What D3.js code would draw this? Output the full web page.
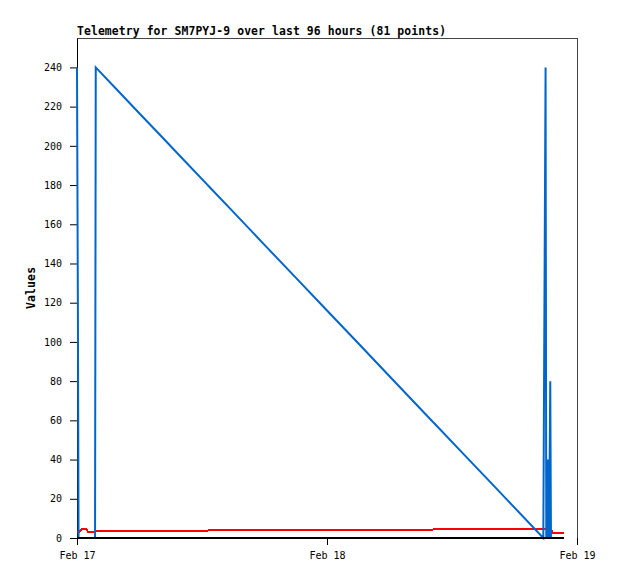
<!DOCTYPE html>
<html>
<head>
<meta charset="utf-8">
<script src="https://cdn.jsdelivr.net/npm/d3@7"></script>
<style>
  body { margin: 0; background: #fff; }
  svg { display: block; }
  text { font-family: "DejaVu Sans Mono", "Liberation Mono", monospace; }
</style>
</head>
<body>
<svg id="chart" width="618" height="579"></svg>
<script>
// ---- data ----
const times = [
  "2024-02-17 00:00", "2024-02-17 00:05", "2024-02-17 00:09", "2024-02-17 00:21",
  "2024-02-17 00:29", "2024-02-17 00:52", "2024-02-17 01:05", "2024-02-17 01:44",
  "2024-02-17 01:48", "2024-02-17 04:00", "2024-02-17 06:00", "2024-02-17 08:00",
  "2024-02-17 10:00", "2024-02-17 12:33", "2024-02-17 12:39", "2024-02-17 15:00",
  "2024-02-17 18:00", "2024-02-17 21:00", "2024-02-18 00:00", "2024-02-18 03:00",
  "2024-02-18 06:00", "2024-02-18 10:09", "2024-02-18 10:15", "2024-02-18 13:00",
  "2024-02-18 16:00", "2024-02-18 18:00", "2024-02-18 20:46", "2024-02-18 20:59",
  "2024-02-18 21:03", "2024-02-18 21:07", "2024-02-18 21:11", "2024-02-18 21:14",
  "2024-02-18 21:19", "2024-02-18 21:26", "2024-02-18 21:30", "2024-02-18 21:35",
  "2024-02-18 21:41", "2024-02-18 22:45"
];
const blueValues = [
  240, 120, 0, 0, 0, 0, 0, 0,
  240, 227.7, 216.5, 205.4, 194.2, 180.0, 179.4, 166.3,
  149.5, 132.8, 116.0, 99.3, 82.5, 59.3, 58.8, 43.4,
  26.7, 15.5, 0, 240, 0, 32, 0, 40,
  0, 80, 0, 0, 0, 0
];
const redValues = [
  2.9, 2.9, 2.9, 4.1, 4.75, 4.75, 2.9, 2.9,
  3.7, 3.7, 3.7, 3.7, 3.7, 3.7, 4.2, 4.2,
  4.2, 4.2, 4.2, 4.2, 4.2, 4.2, 4.6, 4.6,
  4.6, 4.6, 4.6, 4.6, 4.6, 4.6, 2.7, 2.7,
  2.7, 2.7, 2.7, 3.5, 2.7, 2.7
];
const blackValues = [
  0, 0, 0, 0, 0, 0, 0, 0, 0, 0, 0, 0, 0, 0, 0, 0, 0, 0, 0,
  0, 0, 0, 0, 0, 0, 0, 0, 0, 0, 0, 0, 0, 0, 0, 0, 0, 0, 0
];
const yTicks = [0, 20, 40, 60, 80, 100, 120, 140, 160, 180, 200, 220, 240];
const xTickLabels = ["2024-02-17 00:00", "2024-02-18 00:00", "2024-02-19 00:00"];
const xDomain = ["2024-02-17 00:00", "2024-02-19 00:00"];
const yMax = 255;
const title = "Telemetry for SM7PYJ-9 over last 96 hours (81 points)";
const yLabel = "Values";

// ---- drawing ----
(function () {
const parse = d3.timeParse("%Y-%m-%d %H:%M");
const dates = times.map(parse);
const mLeft = 77, mRight = 577, mTop = 38, mBottom = 538;

const x = d3.scaleTime().domain(xDomain.map(parse)).range([mLeft, mRight]);
const y = d3.scaleLinear().domain([0, yMax]).range([mBottom, mTop]);

const svg = d3.select("#chart");
svg.append("rect").attr("width", 618).attr("height", 579).attr("fill", "#fff");

// frame (top + right)
svg.append("path")
  .attr("d", `M${mLeft},${mTop + 0.5}H${mRight + 0.5}V${mBottom}`)
  .attr("fill", "none").attr("stroke", "#444").attr("stroke-width", 1)
  .attr("shape-rendering", "crispEdges");

// y axis
const yAxis = svg.append("g").attr("transform", `translate(${mLeft},0)`)
  .call(d3.axisLeft(y).tickValues(yTicks).tickSize(7).tickSizeOuter(0).tickPadding(8));
yAxis.select(".domain").attr("stroke", "#000");
yAxis.selectAll(".tick line").attr("stroke", "#000");
yAxis.selectAll("text").attr("font-family", "DejaVu Sans Mono").attr("font-size", 10).attr("fill", "#000");

// x axis
const xAxis = svg.append("g").attr("transform", `translate(0,${mBottom})`)
  .call(d3.axisBottom(x).tickValues(xTickLabels.map(parse)).tickFormat(d3.timeFormat("%b %d")).tickSize(7).tickPadding(7));
xAxis.select(".domain").remove();
xAxis.selectAll(".tick line").attr("stroke", "#000");
xAxis.selectAll("text").attr("font-family", "DejaVu Sans Mono").attr("font-size", 10).attr("fill", "#000");

// series
const series = [
  { values: redValues, color: "#ff0000", render: "crispEdges" },
  { values: blueValues, color: "#0066cc", render: "auto" },
  { values: blackValues, color: "#000000", render: "crispEdges" }
];
const line = d3.line().x((d, i) => x(dates[i])).y(d => y(d));
series.forEach(s => {
  svg.append("path")
    .datum(s.values)
    .attr("d", line)
    .attr("fill", "none")
    .attr("stroke", s.color)
    .attr("stroke-width", 2)
    .attr("stroke-linejoin", "miter")
    .attr("shape-rendering", s.render);
});

// title
svg.append("text")
  .attr("x", mLeft).attr("y", 35)
  .attr("font-size", 11.4).attr("font-weight", "bold")
  .attr("textLength", 369).attr("lengthAdjust", "spacing")
  .attr("fill", "#000")
  .text(title);

// y label
svg.append("text")
  .attr("transform", `translate(35,${(mTop + mBottom) / 2}) rotate(-90)`)
  .attr("text-anchor", "middle")
  .attr("font-size", 11.4).attr("font-weight", "bold")
  .attr("textLength", 42).attr("lengthAdjust", "spacing")
  .attr("fill", "#000")
  .text(yLabel);
})();
</script>
</body>
</html>
